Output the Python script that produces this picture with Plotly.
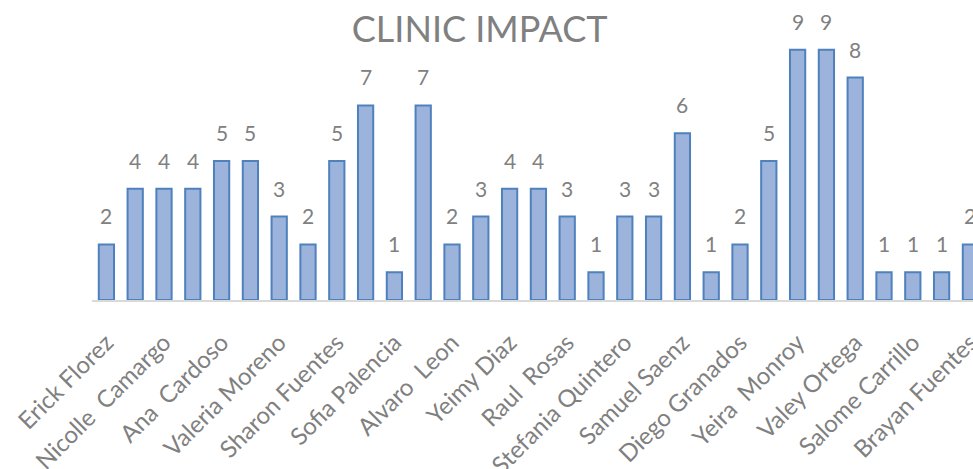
import plotly.graph_objects as go

# Data
values = [2, 4, 4, 4, 5, 5, 3, 2, 5, 7, 1, 7, 2, 3, 4, 4, 3, 1, 3, 3, 6, 1, 2, 5, 9, 9, 8, 1, 1, 1, 2]
shown_names = ["Erick Florez", "Nicolle\u00a0 Camargo", "Ana\u00a0 Cardoso", "Valeria Moreno",
               "Sharon Fuentes", "Sofia Palencia", "Alvaro\u00a0 Leon", "Yeimy Diaz",
               "Raul\u00a0 Rosas", "Stefania Quintero", "Samuel Saenz", "Diego Granados",
               "Yeira\u00a0 Monroy", "Valey Ortega", "Salome Carrillo", "Brayan Fuentes"]
title_text = "CLINIC IMPACT"

positions = list(range(len(values)))
tick_positions = positions[::2]

FONT = "Lato"
GRAY = "#808080"

fig = go.Figure()
fig.add_trace(go.Bar(
    x=positions, y=values,
    marker=dict(color="#9cb3db", line=dict(color="#4f81bd", width=2)),
    hoverinfo="skip",
))

for xi, v in zip(positions, values):
    fig.add_annotation(x=xi, y=v, text=str(v), showarrow=False, yanchor="bottom",
                       yshift=14, font=dict(family=FONT, size=21, color=GRAY))

fig.update_layout(
    width=973, height=469,
    margin=dict(l=92, r=0, t=22, b=169, autoexpand=False),
    paper_bgcolor="white", plot_bgcolor="white",
    bargap=0.47,
    showlegend=False,
    hovermode=False,
    title=dict(text=title_text, x=0.493, xanchor="center", y=1 - 29 / 469, yanchor="middle",
               yref="container", font=dict(family=FONT, size=36, color=GRAY)),
    xaxis=dict(range=[-0.5, 30.09], tickmode="array", tickvals=tick_positions, ticktext=shown_names,
               tickangle=-45, showgrid=False, zeroline=False, showline=True, linecolor="#d9d9d9",
               linewidth=2, ticks="", ticklabelstandoff=17, automargin=False,
               ticklabeloverflow="allow",
               tickfont=dict(family=FONT, size=24, color=GRAY)),
    yaxis=dict(range=[0, 10], visible=False, showgrid=False, zeroline=False, automargin=False),
)

fig.write_html("out.html", config={"displayModeBar": False},
               post_script="document.body.style.margin='0';document.body.style.overflow='hidden';")
